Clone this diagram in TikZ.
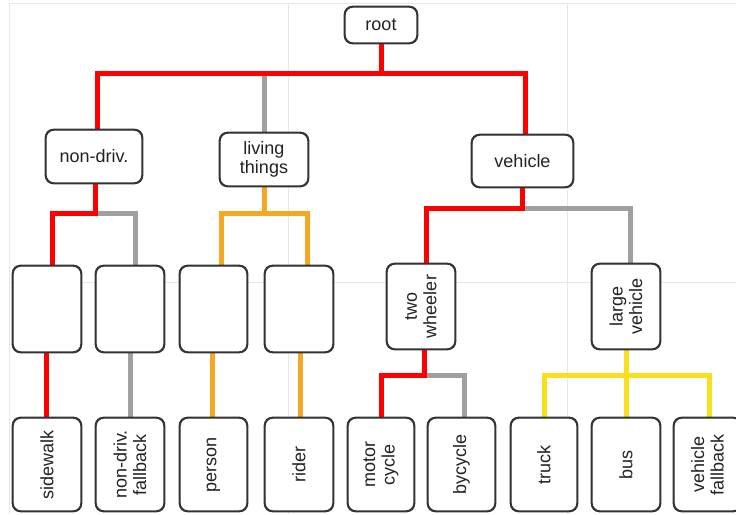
\documentclass[tikz,border=0pt]{standalone}
\usepackage{fontspec}
\setmainfont{Liberation Sans}
\definecolor{edgegray}{HTML}{A0A0A0}
\definecolor{edgered}{HTML}{FF0000}
\definecolor{edgeorange}{HTML}{F5A623}
\definecolor{edgeyellow}{HTML}{F7E11E}
\definecolor{boxline}{HTML}{333333}
\definecolor{gridline}{HTML}{E8E8E8}
\definecolor{txt}{HTML}{222222}
\tikzset{
  box/.style={draw=boxline, line width=1.3pt, rounded corners=8pt, fill=white,
    inner sep=0pt, align=center, text=txt,
    font=\fontsize{18}{19.5}\selectfont},
  vbox/.style={box, rotate=90},
  redline/.style={draw=edgered, line width=5pt},
  grayline/.style={draw=edgegray, line width=5pt},
  orangeline/.style={draw=edgeorange, line width=5pt},
  yellowline/.style={draw=edgeyellow, line width=5pt},
  faint/.style={draw=gridline, line width=0.9pt}
}
\begin{document}
\begin{tikzpicture}[x=1pt,y=-1pt]
\useasboundingbox (0,0) rectangle (736,514);
\fill[white] (0,0) rectangle (736,514);
% faint page grid
\draw[faint] (9.5,514) -- (9.5,3) -- (736,3);
\draw[faint] (288,3) -- (288,514);
\draw[faint] (567,3) -- (567,514);
\draw[faint] (9.5,282) -- (736,282);

% nodes
\node[box, minimum width=72pt, minimum height=36pt] (root) at (381,25) {root};
\node[box, minimum width=96pt, minimum height=53pt] (nondriv) at (94,156.5) {non-driv.};
\node[box, minimum width=88pt, minimum height=53pt] (living) at (264,159.5) {living\\things};
\node[box, minimum width=101pt, minimum height=52pt] (vehicle) at (522.5,161) {vehicle};

\node[box, minimum width=68pt, minimum height=86pt] (b1) at (47,309) {};
\node[box, minimum width=68pt, minimum height=86pt] (b2) at (130,309) {};
\node[box, minimum width=67pt, minimum height=86pt] (b3) at (213.5,309) {};
\node[box, minimum width=68pt, minimum height=86pt] (b4) at (299,309) {};
\node[vbox, minimum width=85pt, minimum height=68pt] (twowh) at (421,306.5) {two\\wheeler};
\node[vbox, minimum width=85pt, minimum height=68pt] (largev) at (626,306.5) {large\\vehicle};

\node[vbox, minimum width=93pt, minimum height=68pt] (sidewalk) at (47,464.5) {sidewalk};
\node[vbox, minimum width=93pt, minimum height=68pt] (ndfb) at (130,464.5) {non-driv.\\fallback};
\node[vbox, minimum width=93pt, minimum height=67pt] (person) at (213.5,464.5) {person};
\node[vbox, minimum width=93pt, minimum height=68pt] (rider) at (299,464.5) {rider};
\node[vbox, minimum width=93pt, minimum height=66pt] (motor) at (381,464.5) {motor\\cycle};
\node[vbox, minimum width=93pt, minimum height=67pt] (bycycle) at (461.5,464.5) {bycycle};
\node[vbox, minimum width=93pt, minimum height=66pt] (truck) at (544,464.5) {truck};
\node[vbox, minimum width=93pt, minimum height=68pt] (bus) at (626,464.5) {bus};
\node[vbox, minimum width=93pt, minimum height=67pt] (vfb) at (707.5,464.5) {vehicle\\fallback};

% junction points
\coordinate (jroot) at (381,73);
\coordinate (jnd) at (95,213);
\coordinate (jlt) at (264,213);
\coordinate (jveh) at (522,208);
\coordinate (jtw) at (424,375);
\coordinate (jlv) at (626,375);

% connectors
\draw[grayline] (living.north) -- (living.north |- jroot);
\draw[redline] (root.south) -- (jroot) -| ([xshift=3pt]nondriv.north);
\draw[redline] (jroot) -| ([xshift=2.5pt]vehicle.north);

\draw[grayline] (jnd) -| ([xshift=5pt]b2.north);
\draw[redline] (nondriv.south -| jnd) -- (jnd) -| ([xshift=5pt]b1.north);
\draw[redline] ([xshift=-1pt]b1.south) -- ([xshift=-1pt]sidewalk.east);
\draw[grayline] (b2.south) -- (ndfb.east);

\draw[orangeline] (living.south) -- (jlt);
\draw[orangeline] ([xshift=7.5pt]b3.north) |- (jlt) -| ([xshift=8pt]b4.north);
\draw[orangeline] ([xshift=-1.5pt]b3.south) -- ([xshift=-1.5pt]person.east);
\draw[orangeline] ([xshift=1pt]b4.south) -- ([xshift=1pt]rider.east);

\draw[grayline] (jveh) -| ([xshift=4pt]largev.east);
\draw[redline] (vehicle.south -| jveh) -- (jveh) -| ([xshift=5pt]twowh.east);

\draw[grayline] (jtw) -| ([xshift=2.5pt]bycycle.east);
\draw[redline] (twowh.west -| jtw) -- (jtw) -| (motor.east);

\draw[yellowline] (largev.west) -- (bus.east);
\draw[yellowline] (truck.east) |- (jlv) -| ([xshift=1.5pt]vfb.east);

% redraw box outlines on top of connector ends
\foreach \n in {root,nondriv,living,vehicle,b1,b2,b3,b4,twowh,largev,sidewalk,ndfb,person,rider,motor,bycycle,truck,bus,vfb}
  \draw[boxline, line width=1.3pt, rounded corners=8pt]
    (\n.north west) rectangle (\n.south east);
\end{tikzpicture}
\end{document}
